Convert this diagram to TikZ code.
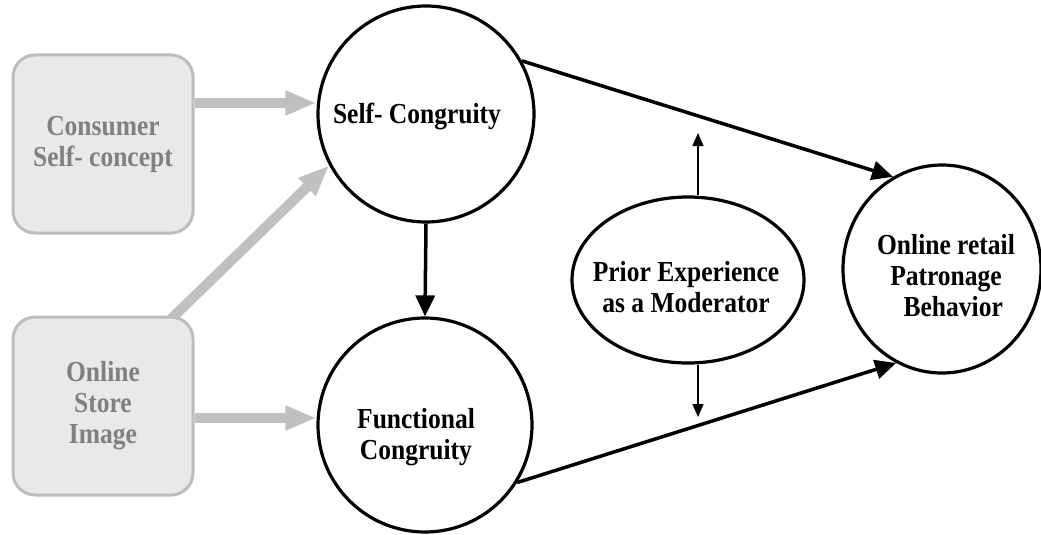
\documentclass[tikz,border=0pt]{standalone}
\usepackage{fontspec}
\setmainfont[FakeStretch=0.88]{Liberation Serif}
\usetikzlibrary{arrows.meta,shapes.geometric}
\definecolor{boxfill}{HTML}{E9E9E9}
\definecolor{boxline}{HTML}{BDBDBD}
\definecolor{boxtext}{HTML}{808080}
\definecolor{grayarrow}{HTML}{C0C0C0}
\pgfdeclarelayer{bg}
\pgfsetlayers{bg,main}
\begin{document}
\begin{tikzpicture}[x=1pt,y=-1pt,
  every node/.style={font=\fontsize{29}{31}\selectfont\bfseries},
  sourcebox/.style={draw=boxline, fill=boxfill, line width=3pt, rounded corners=22pt,
    minimum width=180pt, minimum height=178pt, text=boxtext, align=center, inner sep=0pt},
  construct/.style={draw, circle, line width=3.2pt, inner sep=0pt},
  oval/.style={draw, ellipse, line width=3.2pt, inner sep=0pt},
  caption/.style={align=center, inner sep=0pt},
  feed/.style={draw=grayarrow, line width=10pt, -{Triangle[length=31pt,width=23pt]}},
  effect/.style={line width=3.5pt, -{Triangle[length=21pt,width=19pt]}},
  moderates/.style={line width=1.5pt, -{Triangle[length=13pt,width=11pt]}},
]
\useasboundingbox (0,0) rectangle (1041,535);

% antecedents
\node[sourcebox] (cons)  at (103,144) {Consumer\\Self- concept};
\node[sourcebox] (store) at (103,406) {Online\\Store\\Image};

% constructs
\node[construct, minimum size=216pt] (self) at (426,114) {};
\node[construct, minimum size=214pt] (func) at (425,425) {};
\node[oval, minimum width=198pt, minimum height=208pt] (online) at (942,269) {};
\node[oval, minimum width=232pt, minimum height=166pt] (prior) at (688,280) {};

% construct labels
\node[caption] (selft)   at (417,116) {Self- Congruity};
\node[caption] (funct)   at (416,437) {Functional\\Congruity};
\node[caption] (priort)  at (686,287) {Prior Experience\\as a Moderator};
\node[caption] (onlinet) at (946,276) {Online retail\\Patronage\\\hspace*{0.5em}Behavior};

% moderator arrow ends
\coordinate (modup) at (698,133);
\coordinate (moddn) at (698,417);

% grey antecedent arrows
\begin{pgfonlayer}{bg}
\draw[feed] ([yshift=41pt]cons.east) -- ([yshift=41pt]cons.east -| self.west);
\draw[feed] ([yshift=-12pt]store.east) -- ([yshift=-12pt]store.east -| func.west);
\draw[feed] ([shift={(-26pt,-6pt)}]store.north east) -- (self.208);
\end{pgfonlayer}

% causal paths
\draw[effect] (self.south) -- (func.north);
\draw[effect] (self.29) -- (online.118);
\draw[effect] (func.-32) -- (online.244);

% moderation
\draw[moderates] ([xshift=10pt]prior.north) -- (modup);
\draw[moderates] ([xshift=10pt]prior.south) -- (moddn);
\end{tikzpicture}
\end{document}
